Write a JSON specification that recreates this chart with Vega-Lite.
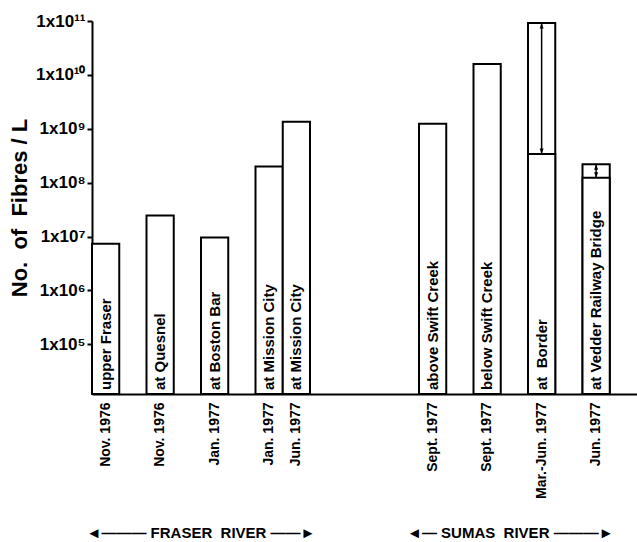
{
  "$schema": "https://vega.github.io/schema/vega-lite/v6.json",
  "autosize": "none",
  "width": 545,
  "height": 373,
  "padding": {"left": 92, "top": 21, "right": 0, "bottom": 148},
  "background": "white",
  "config": {
    "view": {"stroke": null},
    "font": "Liberation Sans",
    "axis": {"grid": false, "domainColor": "black", "domainWidth": 2, "tickColor": "black", "labelColor": "black", "titleColor": "black"}
  },
  "data": {
    "values": [
      {"sample": "Nov. 1976 – upper Fraser", "date": "Nov. 1976", "site": "upper Fraser", "river": "Fraser River", "fibres": 7400000},
      {"sample": "Nov. 1976 – at Quesnel", "date": "Nov. 1976", "site": "at Quesnel", "river": "Fraser River", "fibres": 24500000},
      {"sample": "Jan. 1977 – at Boston Bar", "date": "Jan. 1977", "site": "at Boston Bar", "river": "Fraser River", "fibres": 9600000},
      {"sample": "Jan. 1977 – at Mission City", "date": "Jan. 1977", "site": "at Mission City", "river": "Fraser River", "fibres": 200000000},
      {"sample": "Jun. 1977 – at Mission City", "date": "Jun. 1977", "site": "at Mission City", "river": "Fraser River", "fibres": 1350000000},
      {"sample": "Sept. 1977 – above Swift Creek", "date": "Sept. 1977", "site": "above Swift Creek", "river": "Sumas River", "fibres": 1240000000},
      {"sample": "Sept. 1977 – below Swift Creek", "date": "Sept. 1977", "site": "below Swift Creek", "river": "Sumas River", "fibres": 16000000000},
      {"sample": "Mar.-Jun. 1977 – at Border", "date": "Mar.-Jun. 1977", "site": "at\u00a0\u00a0Border", "river": "Sumas River", "fibres": 92000000000, "low": 340000000},
      {"sample": "Jun. 1977 – at Vedder Railway Bridge", "date": "Jun. 1977", "site": "at Vedder Railway Bridge", "river": "Sumas River", "fibres": 220000000, "low": 124000000}
    ]
  },
  "encoding": {
    "x": {
      "field": "sample",
      "type": "nominal",
      "sort": null,
      "scale": {
        "domain": [
          "Nov. 1976 – upper Fraser", "g1", "Nov. 1976 – at Quesnel", "g2", "Jan. 1977 – at Boston Bar", "g3",
          "Jan. 1977 – at Mission City", "Jun. 1977 – at Mission City", "g4", "g5", "g6", "g7",
          "Sept. 1977 – above Swift Creek", "g8", "Sept. 1977 – below Swift Creek", "g9",
          "Mar.-Jun. 1977 – at Border", "g10", "Jun. 1977 – at Vedder Railway Bridge", "g11"
        ],
        "paddingInner": 0,
        "paddingOuter": 0
      },
      "axis": {
        "title": null,
        "ticks": false,
        "labelAngle": -90,
        "labelAlign": "right",
        "labelBaseline": "middle",
        "labelPadding": 8,
        "labelFontSize": 14,
        "labelFontWeight": "bold",
        "labelOverlap": false,
        "labelExpr": "indexof(datum.value, ' – ') >= 0 ? split(datum.value, ' – ')[0] : ''"
      }
    }
  },
  "layer": [
    {
      "mark": {"type": "bar", "fill": "white", "stroke": "black", "strokeWidth": 2},
      "encoding": {
        "y": {
          "field": "fibres",
          "type": "quantitative",
          "scale": {"type": "log", "domain": [12000, 100000000000], "nice": false},
          "axis": {
            "values": [100000, 1000000, 10000000, 100000000, 1000000000, 10000000000, 100000000000],
            "tickSize": 5,
            "tickWidth": 2,
            "labelFontSize": 17,
            "labelFontWeight": "bold",
            "labelPadding": 2,
            "labelBaseline": "middle",
            "labelExpr": "'1x10' + ['⁰','¹','²','³','⁴','⁵','⁶','⁷','⁸','⁹','¹⁰','¹¹'][round(log(datum.value) / LN10)]",
            "title": "No.\u00a0 of\u00a0 Fibres / L",
            "titleFontSize": 22,
            "titleFontWeight": "bold",
            "titlePadding": 4
          }
        },
        "y2": {"datum": 12000}
      }
    },
    {
      "transform": [{"filter": "isValid(datum.low)"}],
      "mark": {"type": "bar", "fill": "white", "stroke": "black", "strokeWidth": 2},
      "encoding": {
        "y": {"field": "low", "type": "quantitative"},
        "y2": {"datum": 12000}
      }
    },
    {
      "transform": [{"filter": "isValid(datum.low)"}],
      "mark": {"type": "rule", "color": "black", "strokeWidth": 1.5},
      "encoding": {
        "y": {"field": "low", "type": "quantitative"},
        "y2": {"field": "fibres"}
      }
    },
    {
      "transform": [{"filter": "isValid(datum.low)"}],
      "mark": {"type": "point", "filled": true, "color": "black", "opacity": 1, "strokeWidth": 0, "shape": "M0,0L-0.8,2.2L0.8,2.2Z", "size": 25},
      "encoding": {
        "y": {"field": "fibres", "type": "quantitative"}
      }
    },
    {
      "transform": [{"filter": "isValid(datum.low)"}],
      "mark": {"type": "point", "filled": true, "color": "black", "opacity": 1, "strokeWidth": 0, "shape": "M0,0L-0.8,-2.2L0.8,-2.2Z", "size": 25},
      "encoding": {
        "y": {"field": "low", "type": "quantitative"}
      }
    },
    {
      "mark": {"type": "text", "angle": 270, "align": "left", "baseline": "middle", "dx": 4, "fontSize": 15, "fontWeight": "bold", "color": "black"},
      "encoding": {
        "y": {"datum": 12000},
        "text": {"field": "site"}
      }
    },
    {
      "data": {"values": [{"label": "◄——— FRASER\u00a0\u00a0RIVER ——►"}]},
      "mark": {"type": "text", "align": "center", "baseline": "middle", "dy": 139, "fontSize": 15, "fontWeight": "bold", "color": "black"},
      "encoding": {
        "x": {"datum": "g2", "bandPosition": 1},
        "y": {"datum": 12000},
        "text": {"field": "label"}
      }
    },
    {
      "data": {"values": [{"label": "◄— SUMAS\u00a0\u00a0RIVER ———►"}]},
      "mark": {"type": "text", "align": "center", "baseline": "middle", "dy": 139, "fontSize": 15, "fontWeight": "bold", "color": "black"},
      "encoding": {
        "x": {"datum": "g9", "bandPosition": 0.35},
        "y": {"datum": 12000},
        "text": {"field": "label"}
      }
    }
  ]
}
